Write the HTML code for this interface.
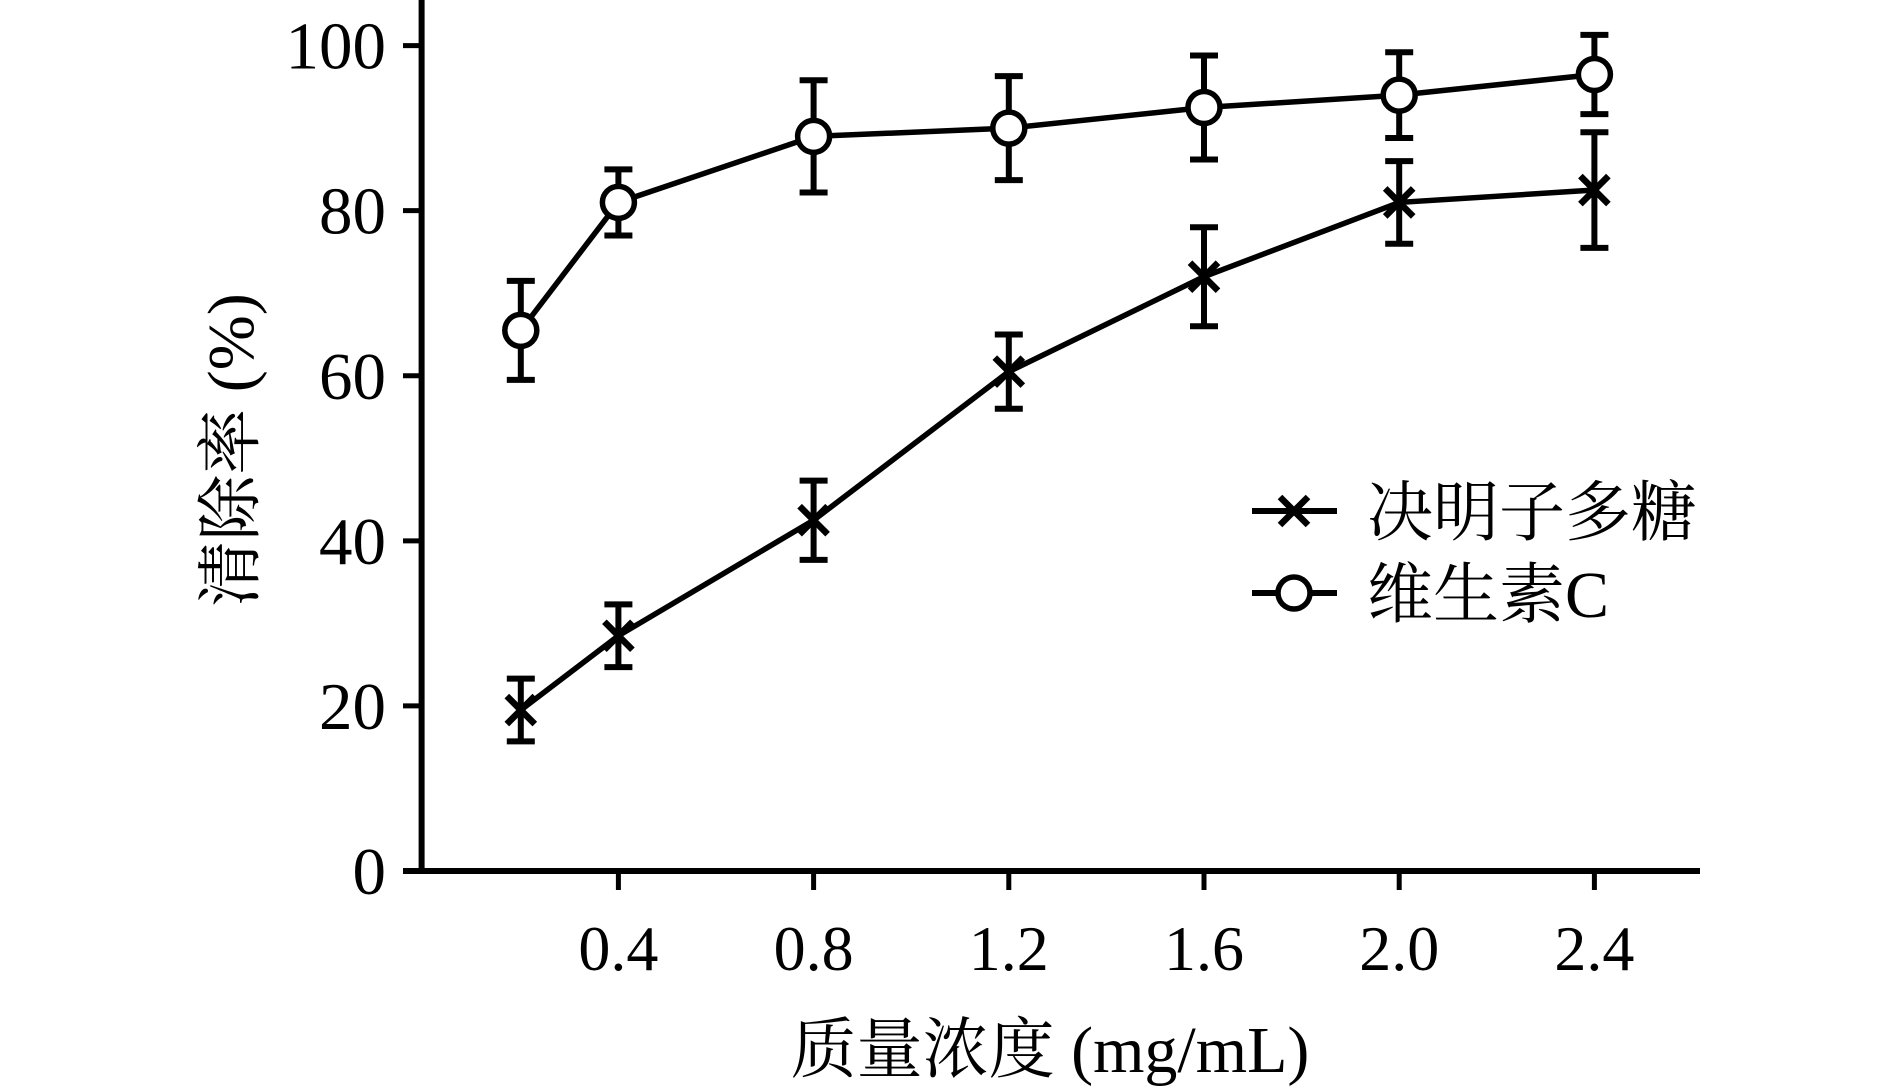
<!DOCTYPE html>
<html><head><meta charset="utf-8"><style>
html,body{margin:0;padding:0;background:#fff;}
svg{display:block;font-family:"Liberation Serif","Noto Serif CJK SC",serif;}
</style></head><body>
<svg id="chart" width="1890" height="1092" viewBox="0 0 1890 1092" xmlns="http://www.w3.org/2000/svg"></svg>
<script>
const xValues=[0.2,0.4,0.8,1.2,1.6,2.0,2.4];
const xTicks=[0.4,0.8,1.2,1.6,2.0,2.4];
const xTickLabels=["0.4","0.8","1.2","1.6","2.0","2.4"];
const yTicks=[0,20,40,60,80,100];
const cassiaMean=[19.5,28.5,42.5,60.5,72,81,82.5];
const cassiaErr=[3.8,3.8,4.8,4.5,6,5,7];
const vitcMean=[65.5,81,89,90,92.5,94,96.5];
const vitcErr=[6,4,6.8,6.3,6.3,5.2,4.8];

const svg=document.getElementById('chart');
const NS='http://www.w3.org/2000/svg';
const X=v=>423.2+v*488;
const Y=v=>871-v*8.254;
function mk(tag,attrs,parent){const e=document.createElementNS(NS,tag);for(const k in attrs)e.setAttribute(k,attrs[k]);(parent||svg).appendChild(e);return e;}

let a=mk('line',{x1:421.6,y1:0,x2:421.6,y2:874,stroke:'#000','stroke-width':6});


a=mk('line',{x1:403,y1:871,x2:1700,y2:871,stroke:'#000','stroke-width':6});


yTicks.forEach(t=>{
  let l=mk('line',{x1:403,y1:Y(t),x2:421.6,y2:Y(t),stroke:'#000','stroke-width':5});
  
  
  let tx=mk('text',{x:386,y:Y(t)+23,'text-anchor':'end','font-size':67});
  tx.textContent=String(t);
  
  
});
xTicks.forEach((t,i)=>{
  let l=mk('line',{x1:X(t),y1:871,x2:X(t),y2:890,stroke:'#000','stroke-width':5});
  
  
  let tx=mk('text',{x:X(t),y:970,'text-anchor':'middle','font-size':64});
  tx.textContent=xTickLabels[i];
  
  
});
let t=mk('text',{x:1050,y:1072,'text-anchor':'middle','font-size':66});
t.textContent='质量浓度 (mg/mL)';


t=mk('text',{x:0,y:0,'text-anchor':'middle','font-size':66,transform:'translate(253,450) rotate(-90)'});
t.textContent='清除率 (%)';



function drawSeries(mean,err,marker,name){
  const g=mk('g',{});
  
  
  const pts=mean.map((m,i)=>X(xValues[i])+','+Y(m)).join(' ');
  let pl=mk('polyline',{points:pts,fill:'none',stroke:'#000','stroke-width':5.5},g);
  
  
  mean.forEach((m,i)=>{
    const cx=X(xValues[i]),cy=Y(m),lo=Y(m-err[i]),hi=Y(m+err[i]);
    let e=mk('path',{d:`M${cx},${hi}V${lo}M${cx-14},${hi}H${cx+14}M${cx-14},${lo}H${cx+14}`,stroke:'#000','stroke-width':6,fill:'none'},g);
    
    
    drawMarker(g,marker,cx,cy,name);
  });
}
function drawMarker(g,marker,cx,cy,name){
  let m;
  if(marker==='o') m=mk('circle',{cx:cx,cy:cy,r:16,fill:'#fff',stroke:'#000','stroke-width':5.5},g);
  else m=mk('path',{d:`M${cx-14},${cy-14}L${cx+14},${cy+14}M${cx-14},${cy+14}L${cx+14},${cy-14}`,stroke:'#000','stroke-width':6.5},g);
  
  
}
drawSeries(cassiaMean,cassiaErr,'x','cassia-polysaccharide');
drawSeries(vitcMean,vitcErr,'o','vitamin-c');

const lg=mk('g',{});


[['x','决明子多糖',511,'cassia-polysaccharide'],['o','维生素C',593,'vitamin-c']].forEach(([mkr,label,y,name])=>{
  let l=mk('line',{x1:1252,y1:y,x2:1337,y2:y,stroke:'#000','stroke-width':6},lg);
  
  
  drawMarker(lg,mkr,1294,y,'legend-'+name);
  let tx=mk('text',{x:1367,y:y+24,'font-size':66},lg);
  tx.textContent=label;
  
  
});
</script>
</body></html>
